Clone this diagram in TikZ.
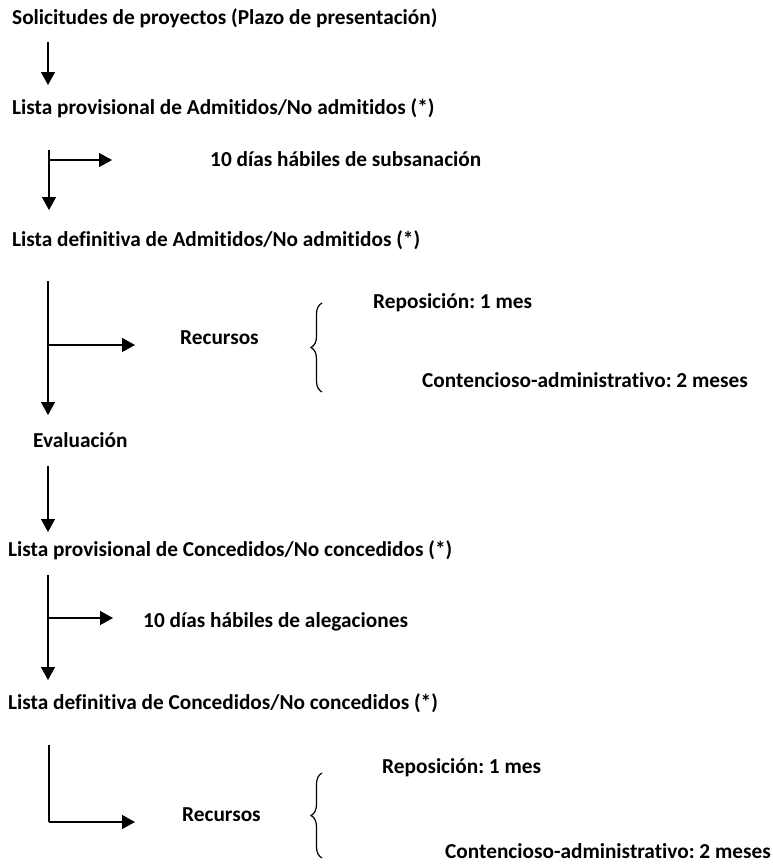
\documentclass[tikz,border=0pt]{standalone}
\usepackage{fontspec}
\setmainfont{Carlito}[Ligatures={NoCommon}]
\usetikzlibrary{arrows.meta,decorations.pathreplacing}
\frenchspacing
\begin{document}
\begin{tikzpicture}[x=1pt,y=-1pt,
    txt/.style={anchor=west,inner sep=0pt,font=\fontsize{21.3}{25}\selectfont\bfseries},
    flow/.style={line width=1.4pt,-{Triangle[length=13pt,width=14pt]}},
    stem/.style={line width=1.4pt},
    llave/.style={line width=1.2pt,decorate,decoration={brace,amplitude=11pt}}]
  \useasboundingbox (0,0) rectangle (772,865);
  % textos de las fases
  \node[txt] (sol)   at (12,18)  {Solicitudes de proyectos (Plazo de presentación)};
  \node[txt] (provA) at (12,108) {Lista provisional de Admitidos/No admitidos (*)};
  \node[txt] (subs)  at (210,159) {10 días hábiles de subsanación};
  \node[txt] (defA)  at (12,240) {Lista definitiva de Admitidos/No admitidos (*)};
  \node[txt] (recA)  at (180,338) {Recursos};
  \node[txt] (repA)  at (373,303) {Reposición: 1 mes};
  \node[txt] (contA) at (422,380) {Contencioso-administrativo: 2 meses};
  \node[txt] (eval)  at (33,440) {Evaluación};
  \node[txt] (provC) at (8,550)  {Lista provisional de Concedidos/No concedidos (*)};
  \node[txt] (aleg)  at (143,622) {10 días hábiles de alegaciones};
  \node[txt] (defC)  at (8,703)  {Lista definitiva de Concedidos/No concedidos (*)};
  \node[txt] (recC)  at (182,815) {Recursos};
  \node[txt] (repC)  at (382,768) {Reposición: 1 mes};
  \node[txt] (contC) at (445,851) {Contencioso-administrativo: 2 meses};
  % puntos de las flechas
  \coordinate (s1) at (48,42);   \coordinate (e1) at (48,85);
  \coordinate (s2) at (49,150);  \coordinate (e2) at (49,210);
  \coordinate (b2) at (49,160);  \coordinate (f2) at (112,160);
  \coordinate (s3) at (48,281);  \coordinate (e3) at (48,415);
  \coordinate (b3) at (48,345);  \coordinate (f3) at (135,345);
  \coordinate (s4) at (48,466);  \coordinate (e4) at (48,532);
  \coordinate (s5) at (48,575);  \coordinate (e5) at (48,680);
  \coordinate (b5) at (48,618);  \coordinate (f5) at (113,618);
  \coordinate (s6) at (49,745);  \coordinate (b6) at (49,822);
  \coordinate (f6) at (135,822);
  % flechas verticales y ramas
  \draw[flow] (s1) -- (e1);
  \draw[flow] (s2) -- (e2);
  \draw[flow] (b2) -- (f2);
  \draw[flow] (s3) -- (e3);
  \draw[flow] (b3) -- (f3);
  \draw[flow] (s4) -- (e4);
  \draw[flow] (s5) -- (e5);
  \draw[flow] (b5) -- (f5);
  \draw[stem] (s6) -- (b6);
  \draw[flow] (b6) -- (f6);
  % llaves de los recursos
  \draw[llave] (322,392) -- (322,303);
  \draw[llave] (322,858) -- (322,773);
\end{tikzpicture}
\end{document}
